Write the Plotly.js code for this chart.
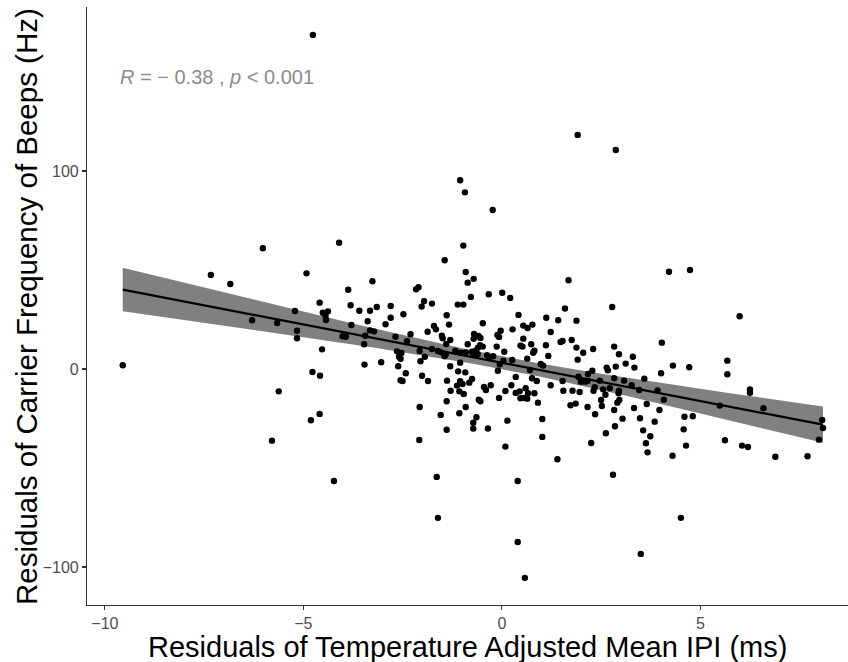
<!DOCTYPE html>
<html>
<head>
<meta charset="utf-8">
<script src="https://cdn.plot.ly/plotly-3.0.1.min.js"></script>
<style>html,body{margin:0;padding:0;background:#fff;}#chart{width:848px;height:662px;}</style>
</head>
<body>
<div id="chart"></div>
<script>
// Residuals of temperature-adjusted mean IPI (ms)
const ipiResid = [
-6.02,-4.10,-7.33,-6.84,-4.92,-4.59,-5.21,-4.51,-4.38,-4.44,-4.43,-6.29,-5.66,-5.16,-5.16,-4.53,-9.55,-4.77,-4.58,-5.62,-4.59,-4.81,-5.79,
-1.05,-0.93,-0.23,-0.97,-1.44,-0.91,-0.71,-0.86,1.68,-3.26,-3.87,-2.10,-2.16,-0.33,0.01,0.21,-0.78,-1.96,-1.76,-2.02,-1.11,-0.97,
-3.81,-3.59,-3.32,-3.15,-2.80,1.59,0.42,-1.39,-2.48,-2.80,-3.38,1.88,1.12,1.42,-2.93,-3.79,-1.33,-0.48,0.54,0.65,0.77,-1.71,-1.66,
-1.87,-3.32,-3.22,-2.30,-2.68,-1.51,-1.49,-0.70,-0.59,-0.71,-0.54,-0.03,-0.11,-0.07,0.27,1.23,1.48,1.53,1.76,1.88,-4.01,-3.93,-3.44,
-3.47,-2.39,-1.76,-1.61,-1.40,-1.30,-0.86,-0.55,-0.48,-0.60,-0.13,0.06,0.54,0.52,0.47,0.74,0.82,0.79,1.11,1.17,-2.64,-2.53,-2.59,
-2.55,-2.07,-1.94,-2.05,-1.53,-1.41,-1.44,-1.17,-1.03,-0.91,-0.75,-0.66,-0.72,-0.61,-0.37,-0.30,-0.22,0.04,-0.05,-0.10,0.26,0.64,
0.71,0.98,1.04,0.76,0.88,-3.04,-3.46,-1.30,-1.05,-2.61,-2.42,-2.55,-2.50,-2.01,-1.86,-1.10,-0.92,-1.38,-1.13,-1.05,-0.99,-0.75,-0.82,
-0.45,-0.40,-0.28,-1.29,-1.07,-0.96,-0.07,0.09,0.24,0.35,0.35,0.45,0.47,0.56,0.64,0.60,0.66,0.82,0.91,1.23,1.53,1.55,1.78,1.73,1.86,
-0.58,-0.54,-1.39,-2.07,-1.54,-1.07,-0.91,-0.64,-0.72,-0.72,-0.35,-1.39,0.14,1.02,1.02,-2.08,0.09,1.40,
4.21,4.74,2.78,5.99,2.05,2.30,1.91,2.83,2.95,3.30,4.03,2.64,2.67,2.87,3.12,3.34,2.28,2.17,4.31,4.72,4.01,3.59,5.68,5.68,1.93,1.99,
2.10,2.16,2.47,2.55,2.34,2.31,2.83,3.08,3.27,3.46,2.95,2.94,2.96,2.91,2.72,3.92,4.08,2.61,2.50,1.96,2.16,2.52,2.83,3.33,3.65,3.97,
5.49,6.25,6.25,6.59,2.35,3.04,3.48,3.85,4.60,4.81,2.85,2.62,3.56,3.74,4.58,3.63,3.67,4.64,4.30,2.25,5.62,6.05,6.20,6.89,7.70,8.07,
8.09,7.99,2.80,4.51,
-4.76,1.91,2.87,-4.23,-1.64,-1.61,0.40,0.40,0.58,3.50
];
// Residuals of carrier frequency of beeps (Hz)
const freqResid = [
61.0,63.8,47.5,42.9,48.3,33.5,29.3,28.4,29.1,26.8,24.7,24.6,23.2,19.3,15.5,9.9,1.9,-1.5,-3.4,-11.3,-22.7,-25.9,-36.2,
95.3,89.2,80.3,62.3,54.9,49.0,45.5,43.6,44.8,44.3,40.0,41.3,40.2,37.7,38.5,35.9,36.4,34.2,33.0,31.5,32.5,32.5,
32.2,29.4,29.4,31.3,31.8,30.5,27.3,27.1,27.6,25.9,24.1,24.4,25.9,24.6,22.6,22.2,22.4,23.1,21.9,20.7,22.4,21.7,20.0,
18.8,19.5,19.0,17.5,16.3,16.8,15.5,17.7,16.7,15.2,15.7,19.3,17.2,16.2,20.0,18.7,13.6,14.1,14.6,10.8,16.5,16.3,16.8,
12.5,14.0,10.1,9.1,12.6,14.6,12.5,12.0,11.3,10.8,11.3,8.7,15.3,11.3,11.8,12.5,9.2,8.2,12.0,6.6,8.9,8.1,6.2,
5.1,9.1,6.2,3.9,8.4,7.6,6.4,9.2,8.2,8.4,8.7,9.2,7.1,7.6,6.9,6.1,6.4,4.2,2.4,-0.9,4.5,5.2,
-0.5,2.5,1.7,-4.7,-6.1,3.4,2.2,1.4,3.2,1.4,-2.2,-5.7,-6.1,-3.4,-6.1,-1.2,-1.7,-5.9,-8.4,-6.2,-7.6,-5.1,-6.9,
-9.1,-10.6,-8.2,-11.0,-11.3,-12.6,-14.6,-11.1,-8.2,-4.0,-12.1,-11.3,-14.8,-14.6,-15.0,-9.7,-12.3,-12.3,-17.0,-8.2,-6.1,-11.0,-11.0,-18.3,-17.5,
-15.5,-16.3,-16.3,-19.2,-23.2,-22.4,-19.2,-24.4,-27.1,-30.1,-30.1,-30.7,-26.1,-25.3,-34.3,-35.9,-39.2,-45.6,
49.1,50.0,31.3,26.6,8.2,10.1,4.7,11.3,7.4,6.2,13.3,0.7,-0.7,1.2,2.7,0.7,-0.9,-2.5,1.7,0.9,-2.2,-4.9,4.2,-2.7,-3.9,-6.4,
-6.4,-5.9,-5.9,-10.3,-9.2,-11.0,-4.7,-5.9,-8.2,-10.6,-11.0,-12.3,-15.7,-17.0,-9.7,-10.8,-15.5,-13.0,-15.7,-11.6,-19.2,-18.7,-20.7,-19.7,-17.7,-20.7,
-18.5,-10.3,-12.0,-19.8,-22.9,-25.1,-24.9,-26.6,-24.1,-23.9,-28.9,-32.5,-31.0,-34.0,-30.5,-37.5,-42.1,-38.7,-43.8,-37.4,-36.0,-38.7,-39.4,-44.3,-44.1,-25.8,
-29.8,-35.7,-53.4,-75.2,
168.7,118.2,110.6,-56.6,-54.5,-75.2,-56.6,-87.4,-105.5,-93.4
];
const xTickVals = [-10, -5, 0, 5];
const yTickVals = [-100, 0, 100];
const statLabel = '<i>R</i> = − 0.38 , <i>p</i> &lt; 0.001';
const xTitle = 'Residuals of Temperature Adjusted Mean IPI (ms)';
const yTitle = 'Residuals of Carrier Frequency of Beeps (Hz)';

// Linear model fit with 95% confidence band (as geom_smooth(method = "lm"))
const n = Math.min(ipiResid.length, freqResid.length);
const xs = ipiResid.slice(0, n), ys = freqResid.slice(0, n);
const mx = xs.reduce((a, b) => a + b, 0) / n;
const my = ys.reduce((a, b) => a + b, 0) / n;
let sxx = 0, sxy = 0;
for (let i = 0; i < n; i++) { sxx += (xs[i] - mx) ** 2; sxy += (xs[i] - mx) * (ys[i] - my); }
const slope = sxy / sxx, icpt = my - slope * mx;
let sse = 0;
for (let i = 0; i < n; i++) { sse += (ys[i] - icpt - slope * xs[i]) ** 2; }
const s = Math.sqrt(sse / (n - 2));
const df = n - 2;
const tq = 1.959964 + (1.959964 ** 3 + 1.959964) / (4 * df);
const xmin = Math.min(...xs), xmax = Math.max(...xs);
const gx = [], gy = [], lo = [], hi = [];
for (let k = 0; k <= 80; k++) {
  const x = xmin + (xmax - xmin) * k / 80;
  const yh = icpt + slope * x;
  const se = s * Math.sqrt(1 / n + (x - mx) ** 2 / sxx);
  gx.push(x); gy.push(yh); lo.push(yh - tq * se); hi.push(yh + tq * se);
}
const bandX = gx.concat(gx.slice().reverse());
const bandY = hi.concat(lo.slice().reverse());

const traces = [
  { x: bandX, y: bandY, type: 'scatter', mode: 'lines', fill: 'toself',
    fillcolor: 'rgb(128,128,128)', line: { width: 0 }, hoverinfo: 'skip', showlegend: false },
  { x: gx, y: gy, type: 'scatter', mode: 'lines', line: { color: '#000', width: 2.2 }, showlegend: false },
  { x: xs, y: ys, type: 'scatter', mode: 'markers',
    marker: { color: '#000', size: 6.4 }, showlegend: false }
];

const axisCommon = {
  showgrid: false, zeroline: false, showline: true, linecolor: '#333', linewidth: 1.1,
  ticks: 'outside', ticklen: 4, tickwidth: 1.1, tickcolor: '#333',
  tickfont: { family: 'Liberation Sans, Arial, sans-serif', size: 16, color: '#4d4d4d' }
};

const layout = {
  width: 848, height: 662,
  margin: { l: 87, r: 0, t: 7, b: 57, pad: 0 },
  paper_bgcolor: '#fff', plot_bgcolor: '#fff',
  showlegend: false,
  xaxis: Object.assign({}, axisCommon, {
    range: [-10.45, 8.72], tickvals: xTickVals, ticktext: xTickVals.map(v => v < 0 ? '−' + Math.abs(v) : String(v))
  }),
  yaxis: Object.assign({}, axisCommon, {
    range: [-119.2, 182.8], tickvals: yTickVals, ticktext: yTickVals.map(v => v < 0 ? '−' + Math.abs(v) : String(v))
  }),
  annotations: [{
    text: statLabel, xref: 'paper', yref: 'paper', x: 0.0407, y: 0.883,
    xanchor: 'left', yanchor: 'middle', showarrow: false,
    font: { family: 'Liberation Sans, Arial, sans-serif', size: 20, color: '#8c8c8c' }
  }, {
    text: xTitle, xref: 'paper', yref: 'paper', x: 0.5, y: -0.0702,
    xanchor: 'center', yanchor: 'middle', showarrow: false, borderpad: 0,
    font: { family: 'Liberation Sans, Arial, sans-serif', size: 29, color: '#000' }
  }, {
    text: yTitle, xref: 'paper', yref: 'paper', x: -0.0802, y: 0.5,
    xanchor: 'center', yanchor: 'middle', textangle: -90, showarrow: false, borderpad: 0,
    font: { family: 'Liberation Sans, Arial, sans-serif', size: 29.5, color: '#000' }
  }]
};

Plotly.newPlot('chart', traces, layout, { displayModeBar: false, staticPlot: true });
</script>
</body>
</html>
